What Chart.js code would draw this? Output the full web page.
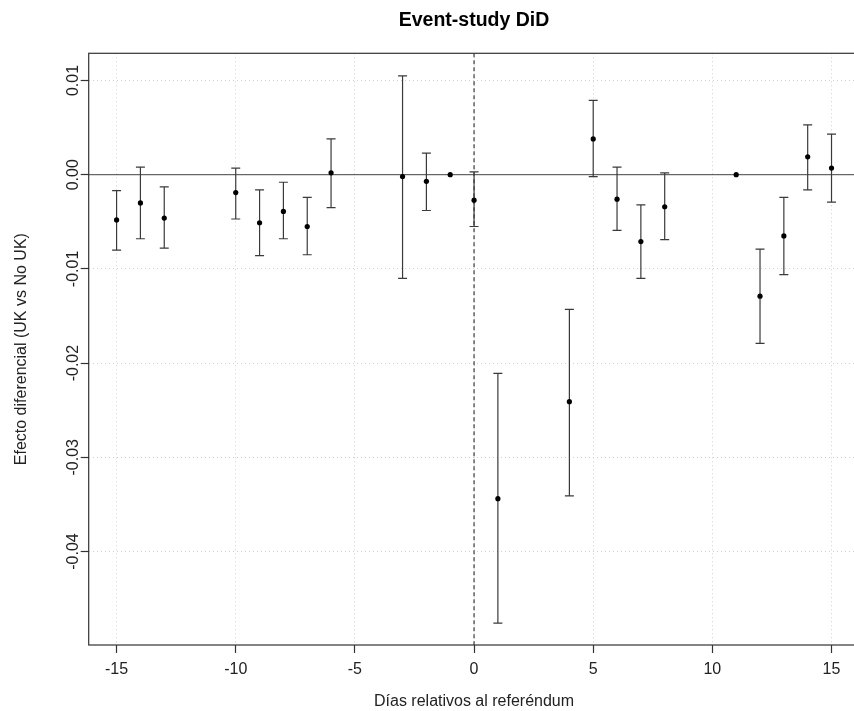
<!DOCTYPE html>
<html>
<head>
<meta charset="utf-8">
<script src="https://cdn.jsdelivr.net/npm/chart.js@4"></script>
<style>
  html, body { margin: 0; padding: 0; background: #fff; overflow: hidden; }
  #wrap { width: 854px; height: 711px; overflow: hidden; }
  canvas { display: block; }
</style>
</head>
<body>
<div id="wrap"><canvas id="c" width="862" height="711"></canvas></div>
<script>
// ---- data ----
const days = [-15, -14, -13, -10, -9, -8, -7, -6, -3, -2, -1, 0, 1, 4, 5, 6, 7, 8, 11, 12, 13, 14, 15];
const estimate = [-0.0048, -0.0030, -0.0046, -0.0019, -0.0051, -0.0039, -0.0055, 0.0002, -0.0002, -0.0007, 0.0000, -0.0027, -0.0344, -0.0241, 0.0038, -0.0026, -0.0071, -0.0034, 0.0000, -0.0129, -0.0065, 0.0019, 0.0007];
const ciLow = [-0.0080, -0.0068, -0.0078, -0.0047, -0.0086, -0.0068, -0.0085, -0.0035, -0.0110, -0.0038, null, -0.0055, -0.0476, -0.0341, -0.0002, -0.0059, -0.0110, -0.0069, null, -0.0179, -0.0106, -0.0016, -0.0029];
const ciHigh = [-0.0017, 0.0008, -0.0013, 0.0007, -0.0016, -0.0008, -0.0024, 0.0038, 0.0105, 0.0023, null, 0.0003, -0.0211, -0.0143, 0.0079, 0.0008, -0.0032, 0.0002, null, -0.0079, -0.0024, 0.0053, 0.0043];
const xTicks = [-15, -10, -5, 0, 5, 10, 15];
const yTicks = [0.01, 0.00, -0.01, -0.02, -0.03, -0.04];
const titleText = 'Event-study DiD';
const xTitle = 'Días relativos al referéndum';
const yTitle = 'Efecto diferencial (UK vs No UK)';

const FONT = '"Liberation Sans", Arial, Helvetica, sans-serif';

const points = days.map((d, i) => ({ x: d, y: estimate[i] }));

const decorPlugin = {
  id: 'decor',
  beforeDatasetsDraw(chart) {
    const { ctx, chartArea: a, scales: { x, y } } = chart;
    ctx.save();
    ctx.beginPath();
    ctx.rect(a.left, a.top, a.right - a.left, a.bottom - a.top);
    ctx.clip();
    // horizontal zero line
    const y0 = y.getPixelForValue(0);
    ctx.strokeStyle = '#444';
    ctx.lineWidth = 1;
    ctx.setLineDash([]);
    ctx.beginPath();
    ctx.moveTo(a.left, y0);
    ctx.lineTo(a.right, y0);
    ctx.stroke();
    // vertical dashed line at 0
    const x0 = x.getPixelForValue(0);
    ctx.strokeStyle = '#555';
    ctx.lineWidth = 1.4;
    ctx.setLineDash([4, 3]);
    ctx.beginPath();
    ctx.moveTo(x0, a.top);
    ctx.lineTo(x0, a.bottom);
    ctx.stroke();
    ctx.setLineDash([]);
    // error bars
    ctx.strokeStyle = '#3a3a3a';
    ctx.lineWidth = 1.2;
    const cap = 4.5;
    days.forEach((d, i) => {
      if (ciLow[i] === null || ciHigh[i] === null) return;
      const px = x.getPixelForValue(d);
      const pl = y.getPixelForValue(ciLow[i]);
      const ph = y.getPixelForValue(ciHigh[i]);
      ctx.beginPath();
      ctx.moveTo(px, pl); ctx.lineTo(px, ph);
      ctx.moveTo(px - cap, pl); ctx.lineTo(px + cap, pl);
      ctx.moveTo(px - cap, ph); ctx.lineTo(px + cap, ph);
      ctx.stroke();
    });
    ctx.restore();
  },
  afterDraw(chart) {
    const { ctx, chartArea: a } = chart;
    ctx.save();
    ctx.strokeStyle = '#333';
    ctx.lineWidth = 1.2;
    ctx.strokeRect(a.left, a.top, a.right - a.left, a.bottom - a.top);
    ctx.restore();
  }
};

new Chart(document.getElementById('c'), {
  type: 'scatter',
  data: {
    datasets: [{
      data: points,
      pointRadius: 2.6,
      pointHoverRadius: 2.6,
      pointBackgroundColor: '#000',
      pointBorderColor: '#000',
      pointBorderWidth: 0,
      showLine: false
    }]
  },
  options: {
    responsive: false,
    animation: false,
    devicePixelRatio: 1,
    layout: { padding: { top: 0, left: 0, right: 1.3, bottom: 0 } },
    plugins: {
      legend: { display: false },
      tooltip: { enabled: false },
      title: {
        display: true,
        text: titleText,
        fullSize: false,
        color: '#000',
        font: { family: FONT, size: 19.5, weight: 'bold' },
        padding: { top: 8.5, bottom: 21.4 }
      }
    },
    scales: {
      x: {
        type: 'linear',
        min: -16.17,
        max: 16.17,
        afterBuildTicks: s => { s.ticks = xTicks.map(v => ({ value: v })); },
        afterFit: s => { s.height = 66; },
        ticks: {
          color: '#222',
          font: { family: FONT, size: 16 },
          padding: 7,
          maxRotation: 0,
          callback: v => String(v)
        },
        grid: {
          color: '#cfcfcf',
          lineWidth: 1,
          drawTicks: true,
          tickLength: 8,
          tickColor: '#333',
          tickWidth: 1.2
        },
        border: { display: false, dash: [1, 3] },
        title: {
          display: true,
          text: xTitle,
          color: '#222',
          font: { family: FONT, size: 16 },
          padding: { top: 0, bottom: 0 }
        }
      },
      y: {
        type: 'linear',
        min: -0.04993,
        max: 0.01289,
        afterBuildTicks: s => { s.ticks = yTicks.map(v => ({ value: v })); },
        afterFit: s => { s.width = 88.7; },
        ticks: {
          color: '#222',
          font: { family: FONT, size: 16 },
          padding: -11,
          minRotation: 90,
          maxRotation: 90,
          crossAlign: 'center',
          callback: v => Number(v).toFixed(2)
        },
        grid: {
          color: '#cfcfcf',
          lineWidth: 1,
          drawTicks: true,
          tickLength: 8,
          tickColor: '#333',
          tickWidth: 1.2
        },
        border: { display: false, dash: [1, 3] },
        title: {
          display: true,
          text: yTitle,
          color: '#222',
          font: { family: FONT, size: 16 },
          padding: { top: 12, bottom: 0 }
        }
      }
    }
  },
  plugins: [decorPlugin]
});
</script>
</body>
</html>
